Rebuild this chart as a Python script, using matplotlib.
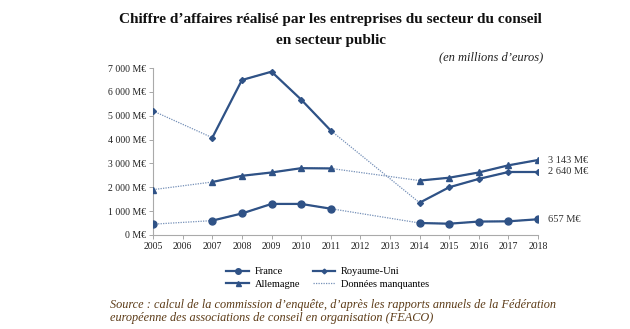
import matplotlib
matplotlib.use("Agg")
import matplotlib.pyplot as plt
import numpy as np

plt.rcParams['font.family'] = ['Liberation Serif', 'DejaVu Serif']

years = list(range(2005, 2019))
nan = np.nan
france = [450, nan, 600, 900, 1300, 1300, 1100, nan, nan, 500, 470, 560, 570, 657]
royaume_uni = [5200, nan, 4080, 6500, 6850, 5680, 4380, nan, nan, 1350, 2000, 2350, 2640, 2640]
allemagne = [1900, nan, 2220, 2480, 2620, 2800, 2790, nan, nan, 2280, 2400, 2620, 2920, 3143]
end_labels = ['657 M€', '2 640 M€', '3 143 M€']

y_ticks = [0, 1000, 2000, 3000, 4000, 5000, 6000, 7000]
y_labels = ['0 M€', '1 000 M€', '2 000 M€', '3 000 M€', '4 000 M€', '5 000 M€', '6 000 M€', '7 000 M€']

blue = '#2f5286'
dot_blue = '#7590b8'

fig = plt.figure(figsize=(6.3, 3.29), dpi=100)
ax = fig.add_axes([0.243, 0.286, 0.611, 0.507])

x = np.array(years)
series = [
    ('France', france, 'o', 5),
    ('Allemagne', allemagne, '^', 4.5),
    ('Royaume-Uni', royaume_uni, 'D', 3),
]
handles = {}
for name, vals, mk, ms in series:
    v = np.array(vals, dtype=float)
    ok = ~np.isnan(v)
    ax.plot(x[ok], v[ok], linestyle=(0, (1, 1)), color=dot_blue, linewidth=0.9, zorder=2)
    h, = ax.plot(x, v, color=blue, linewidth=1.6, marker=mk, markersize=ms,
                 markerfacecolor=blue, markeredgecolor=blue, zorder=3, label=name)
    handles[name] = h

# end value labels
for vals, lab in zip([france, royaume_uni, allemagne], end_labels):
    ax.annotate(lab, (years[-1], vals[-1]), xytext=(7, 0), textcoords='offset points',
                va='center', ha='left', fontsize=7.5, color='#333333', annotation_clip=False)

ax.set_xlim(2005, 2018)
ax.set_ylim(0, 7000)
ax.set_xticks(years)
ax.set_xticklabels([str(y) for y in years], fontsize=7)
ax.set_yticks(y_ticks)
ax.set_yticklabels(y_labels, fontsize=7)
ax.tick_params(axis='both', length=3, width=0.6, color='#999999', labelcolor='#222222', pad=2)
for s in ['top', 'right']:
    ax.spines[s].set_visible(False)
for s in ['left', 'bottom']:
    ax.spines[s].set_color('#aaaaaa')
    ax.spines[s].set_linewidth(0.8)

missing, = ax.plot([], [], linestyle=(0, (1, 1)), color=dot_blue, linewidth=0.9,
                   label='Données manquantes')
leg = fig.legend([handles['France'], handles['Allemagne'], handles['Royaume-Uni'], missing],
                 ['France', 'Allemagne', 'Royaume-Uni', 'Données manquantes'],
                 ncol=2, loc='center', bbox_to_anchor=(0.52, 0.155), frameon=False,
                 fontsize=7.5, handlelength=2.2, columnspacing=1.2, labelspacing=0.3,
                 handletextpad=0.5, markerscale=0.8)

fig.text(0.525, 0.94, "Chiffre d’affaires réalisé par les entreprises du secteur du conseil",
         ha='center', va='center', fontsize=11, fontweight='bold', color='#111111')
fig.text(0.525, 0.878, "en secteur public", ha='center', va='center', fontsize=11,
         fontweight='bold', color='#111111')
fig.text(0.862, 0.826, "(en millions d’euros)", ha='right', va='center', fontsize=9,
         style='italic', color='#222222')

src = '#5c3b17'
fig.text(0.175, 0.072, "Source : calcul de la commission d’enquête, d’après les rapports annuels de la Fédération",
         ha='left', va='center', fontsize=8.8, style='italic', color=src)
fig.text(0.175, 0.032, "européenne des associations de conseil en organisation (FEACO)",
         ha='left', va='center', fontsize=8.8, style='italic', color=src)

fig.savefig('out.png', dpi=100)
